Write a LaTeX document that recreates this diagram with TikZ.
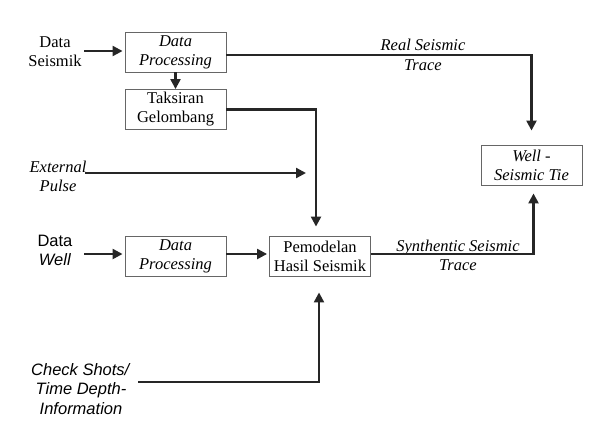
\documentclass[tikz,border=0pt]{standalone}
\usepackage{fontspec}
\setmainfont{Liberation Serif}
\setsansfont{Liberation Sans}
\usetikzlibrary{arrows.meta}
\begin{document}
\begin{tikzpicture}[x=1pt,y=-1pt,
  box/.style={draw=black!60, line width=0.9pt, minimum width=101pt, minimum height=40pt, inner sep=0pt, align=center, font=\fontsize{16.5}{19}\selectfont},
  lbl/.style={align=center, inner sep=0pt, font=\fontsize{16.5}{19.5}\selectfont},
  flow/.style={draw=black!85, line width=2.3pt, -{Triangle[length=10pt,width=10pt]}}]
\useasboundingbox (0,0) rectangle (604,434);
% boxes
\node[box] (dp1) at (175.5,52) {\textit{Data}\\\textit{Processing}};
\node[box] (tg) at (175.5,109.5) {Taksiran\\Gelombang};
\node[box] (dp2) at (175.5,256) {\textit{Data}\\\textit{Processing}};
\node[box] (pem) at (320,256) {Pemodelan\\Hasil Seismik};
\node[box] (wst) at (531.5,165) {\textit{Well -}\\\textit{Seismic Tie}};
% labels
\node[lbl] (ds) at (55,51.5) {Data\\Seismik};
\node[lbl] (ep) at (58,176.5) {\textit{External}\\\textit{Pulse}};
\node[lbl, font=\sffamily\fontsize{16.5}{19}\selectfont] (dw) at (55,250) {Data\\\textit{Well}};
\node[lbl, font=\sffamily\fontsize{16.5}{19.5}\selectfont] (cs) at (81,389) {\textit{Check Shots/}\\\textit{Time Depth-}\\\textit{Information}};
\node[lbl] (rst) at (423,55) {\textit{Real Seismic}\\\textit{Trace}};
\node[lbl] (sst) at (458,255.5) {\textit{Synthentic Seismic}\\\textit{Trace}};
% coordinates
\coordinate (dsS) at (84,51);
\coordinate (dwS) at (84,254);
\coordinate (epS) at (85,173);
\coordinate (epE) at (306,173);
\coordinate (csS) at (138,382);
% connectors
\draw[flow, shorten >=2pt] (dsS) -- (dp1.west |- dsS);
\draw[flow] (dp1.south) -- (tg.north);
\draw[flow, shorten >=14pt] ([yshift=-3pt]dp1.east) -| (wst.north);
\draw[flow, shorten >=9pt] (tg.east) -| ([xshift=-4pt]pem.north);
\draw[flow] (epS) -- (epE);
\draw[flow, shorten >=2pt] (dwS) -- (dp2.west |- dwS);
\draw[flow, shorten >=2pt] ([yshift=2pt]dp2.east) -- ([yshift=2pt]pem.west);
\draw[flow, shorten >=8pt] ([yshift=2pt]pem.east) -| ([xshift=2pt]wst.south);
\draw[flow, shorten >=16pt] (csS) -| ([xshift=-1pt]pem.south);
\end{tikzpicture}
\end{document}
